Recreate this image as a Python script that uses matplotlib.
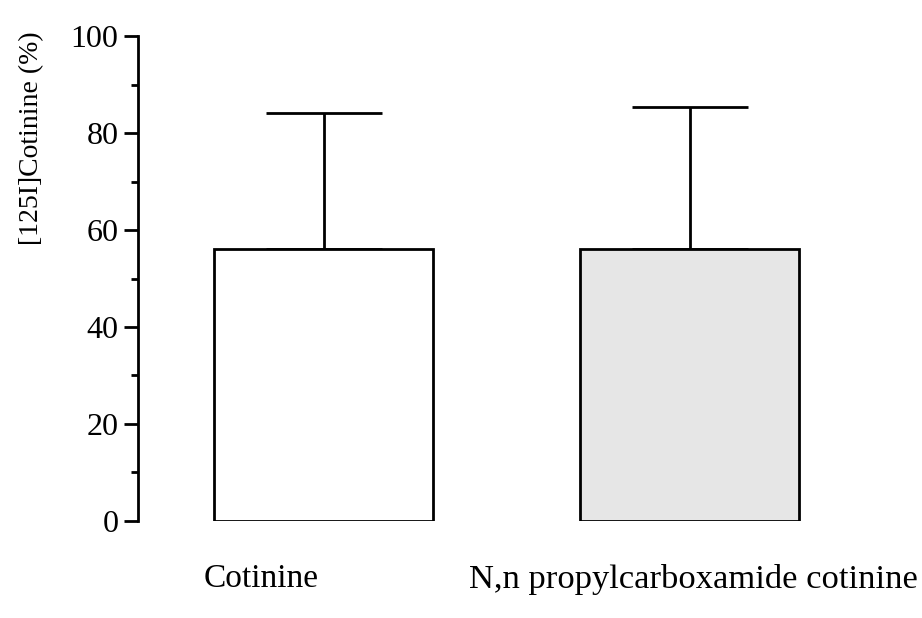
import matplotlib
matplotlib.use("Agg")
import matplotlib.pyplot as plt

plt.rcParams['font.family'] = ['Liberation Serif', 'DejaVu Serif']

categories = ['Cotinine', 'N,n propylcarboxamide cotinine']
means = [56.1, 56.1]
errors = [28.0, 29.3]
colors = ['white', '#e6e6e6']
label_x = [-0.17, 1.01]
label_size = [24, 24.8]

fig = plt.figure(figsize=(9.22, 6.18), dpi=100)
ax = fig.add_axes([0.1497, 0.157, 0.8363, 0.7847])

x = list(range(len(categories)))
ax.bar(x, means, width=0.6, color=colors, edgecolor='black', linewidth=2, zorder=2)
ax.errorbar(x, means, yerr=[[0, 0], errors], fmt='none', ecolor='black',
            elinewidth=2, capsize=41.5, capthick=2, zorder=1)

ax.set_xlim(-0.507, 1.6)
ax.set_ylim(0, 100)
ax.set_yticks([0, 20, 40, 60, 80, 100])
ax.set_yticks([10, 30, 50, 70, 90], minor=True)
ax.tick_params(axis='y', which='major', length=10, width=2, labelsize=23, pad=4)
ax.tick_params(axis='y', which='minor', length=5, width=2)
ax.set_xticks([])
for s in ['top', 'right', 'bottom']:
    ax.spines[s].set_visible(False)
ax.spines['left'].set_linewidth(2)
ax.set_ylabel('[125I]Cotinine (%)', fontsize=20)
ax.yaxis.set_label_coords(-0.122, 0.79)

for lx, name, fs in zip(label_x, categories, label_size):
    ax.text(lx, -12, name, ha='center', va='center', fontsize=fs)

fig.savefig('out.png', dpi=100)
